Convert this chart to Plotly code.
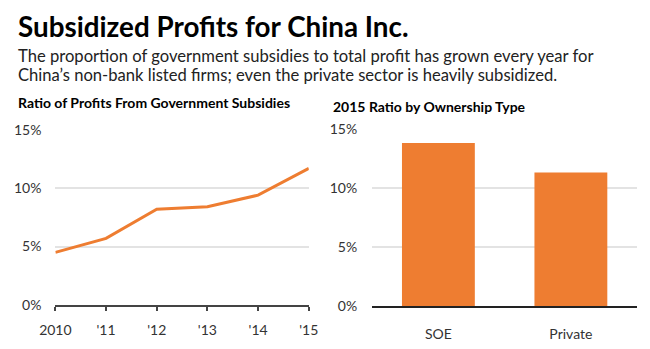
import plotly.graph_objects as go

years = [2010, 2011, 2012, 2013, 2014, 2015]
year_labels = ["2010", "'11", "'12", "'13", "'14", "'15"]
ratio = [4.5, 5.7, 8.2, 8.4, 9.4, 11.7]

owner_types = ["SOE", "Private"]
owner_ratio = [13.8, 11.3]

y_ticks = [0, 5, 10, 15]
y_tick_labels = ["0%", "5%", "10%", "15%"]

title = "Subsidized Profits for China Inc."
sub1 = "The proportion of government subsidies to total profit has grown every year for"
sub2 = "China\u2019s non-bank listed firms; even the private sector is heavily subsidized."
left_title = "Ratio of Profits From Government Subsidies"
right_title = "2015 Ratio by Ownership Type"

W, H = 650, 349
FONT = "Lato"
ORANGE = "#EE7D31"

def px(x):
    return x / W

def py(y):
    return (H - y) / H

fig = go.Figure()
fig.add_trace(go.Scatter(x=years, y=ratio, mode="lines",
                         line=dict(color=ORANGE, width=3),
                         xaxis="x", yaxis="y", hoverinfo="skip"))
fig.add_trace(go.Bar(x=owner_types, y=owner_ratio, marker=dict(color=ORANGE, line=dict(width=0)),
                     xaxis="x2", yaxis="y2", hoverinfo="skip"))

tickfont = dict(family=FONT, size=14, color="#333333")

fig.update_layout(
    width=W, height=H,
    margin=dict(l=0, r=0, t=0, b=0),
    paper_bgcolor="white", plot_bgcolor="white",
    showlegend=False,
    bargap=0.45,
    xaxis=dict(domain=[px(41), px(305)], range=[2010, 2015], tickvals=years, ticktext=year_labels,
               showgrid=False, zeroline=False, showline=True, linecolor="#444444", linewidth=1.5,
               ticks="outside", ticklen=4, tickcolor="#444444", tickwidth=1.5,
               tickfont=tickfont, ticklabelstandoff=8, anchor="y"),
    yaxis=dict(domain=[py(311), py(127)], range=[0, 15], tickvals=y_ticks, ticktext=y_tick_labels,
               showgrid=True, gridcolor="#E3E3E3", gridwidth=1.5, zeroline=False, showline=False,
               tickfont=tickfont, ticks="", ticklabelstandoff=13, anchor="x"),
    xaxis2=dict(domain=[px(371), px(647)], range=[-0.5, 1.5], type="category",
                showgrid=False, zeroline=False, showline=True, linecolor="#222222", linewidth=1.5,
                ticks="", tickfont=tickfont, ticklabelstandoff=14, anchor="y2"),
    yaxis2=dict(domain=[py(312.5), py(126)], range=[0, 15], tickvals=y_ticks, ticktext=y_tick_labels,
                showgrid=True, gridcolor="#E3E3E3", gridwidth=1.5, zeroline=False, showline=False,
                tickfont=tickfont, ticks="", ticklabelstandoff=14, anchor="x2"),
)

def ann(text, x, y, size, bold=False, color="#000000"):
    fig.add_annotation(text=f"<b>{text}</b>" if bold else text, x=px(x), y=py(y),
                       xref="paper", yref="paper", xanchor="left", yanchor="middle",
                       showarrow=False, font=dict(family=FONT, size=size, color=color))

ann(title, 0, 18, 27.8, bold=True)
ann(sub1, 0, 49, 16.6, color="#222222")
ann(sub2, 0, 69.5, 16.6, color="#222222")
ann(left_title, 0, 98, 14, bold=True)
ann(right_title, 328, 102, 14, bold=True)

fig.write_html("out.html")
